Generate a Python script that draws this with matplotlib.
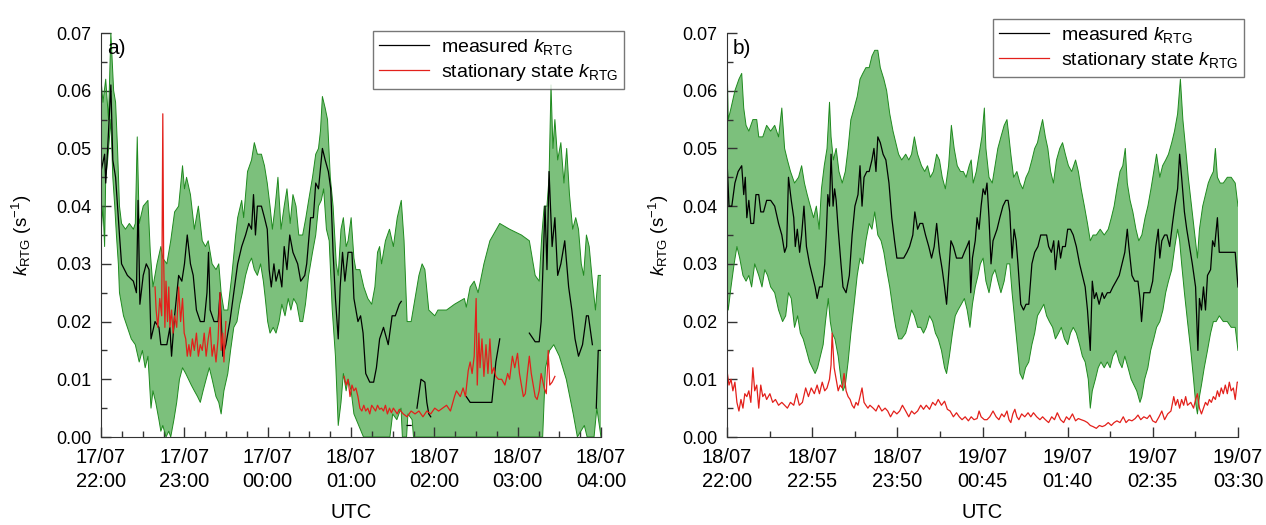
# k_RTG measured vs stationary state, two nights
import numpy as np
import matplotlib
matplotlib.use('Agg')
import matplotlib.pyplot as plt

plt.rcParams['font.family'] = ['Liberation Sans', 'DejaVu Sans']
plt.rcParams['mathtext.fontset'] = 'custom'
plt.rcParams['mathtext.rm'] = 'Liberation Sans'
plt.rcParams['mathtext.it'] = 'Liberation Sans:italic'

nan = np.nan

# ---------------- panel a) 17/07 22:00 -> 18/07 04:00 (minutes since 22:00)
ticks_a = ['17/07\n22:00', '17/07\n23:00', '17/07\n00:00', '18/07\n01:00',
           '18/07\n02:00', '18/07\n03:00', '18/07\n04:00']

t_meas_a = [0, 2.6, 3.4, 4.8, 7.1, 8.5, 10.5, 13.3, 14.8, 19,
            23.3, 25.5, 26.7, 28, 30.4, 32.6, 34.6, 36, 38.9, 41.7,
            43.1, 47.4, 49.6, 50.8, 53, 55.9, 58.2, 60.1, 62.1, 64.4,
            66.4, 68.7, 71.5, 74.3, 76.3, 77.4, 78.6, 81.4, 84.3, 85.7,
            87.7, 89.9, 92.8, 95.6, 98.4, 101.3, 104.1, 106.4, 108.4, 109.8,
            111.2, 112.6, 115.5, 117.7, 119.7, 121.1, 122.6, 124.5, 126, 128.2,
            130.2, 131.9, 133.9, 135.9, 138.2, 141.6, 143.8, 146.7, 148.1, 149.5,
            150.9, 152.9, 154.6, 156.6, 159.4, 161.4, 163.7, 165.4, 167.1, 168.8,
            170.8, 172.2, 173.9, 175.6, 177.9, 180.7, 182.1, 185, 186.9, 188.7,
            190.6, 193.5, 196.3, 198.3, 200.6, 203.4, 205.7, 206.8, 209.6, 211.9,
            214.8, 216.2, 218, 220.4, 223.3, 225, 227.5, 230.4, 233.2, 234.6,
            236, 237.4, 250, 263, 265.8, 272.9, 281.4, 284.3, 287.1, 300,
            308.4, 312.6, 315.5, 316.9, 319.7, 321.1, 322.6, 324.8, 326.8, 328.8,
            331.1, 333.9, 336.7, 339, 341.3, 343.8, 346.7, 349.5, 350.9, 353.8,
            355, 356.6, 358, 360]
k_meas_a = [0.046, 0.049, 0.044, 0.05, 0.061, 0.048, 0.045, 0.035, 0.03, 0.028,
            0.027, 0.025, 0.041, 0.023, 0.028, 0.03, 0.029, 0.017, 0.02, 0.019,
            0.016, 0.016, 0.019, 0.014, 0.021, 0.028, 0.027, 0.03, 0.035, 0.03,
            0.028, 0.022, 0.02, 0.02, 0.025, 0.032, 0.022, 0.02, 0.02, 0.025,
            0.014, 0.016, 0.02, 0.025, 0.03, 0.033, 0.035, 0.037, 0.036, 0.042,
            0.035, 0.04, 0.04, 0.038, 0.036, 0.029, 0.026, 0.03, 0.027, 0.029,
            0.026, 0.033, 0.029, 0.035, 0.032, 0.03, 0.027, 0.028, 0.03, 0.034,
            0.038, 0.038, 0.044, 0.043, 0.05, 0.048, 0.046, 0.043, 0.032, 0.024,
            0.017, 0.026, 0.032, 0.027, 0.032, 0.032, 0.024, 0.02, 0.021, 0.018,
            0.011, 0.0095, 0.0095, 0.012, 0.017, 0.019, 0.017, 0.016, 0.021, 0.021,
            0.023, 0.0235, nan, 0.002, 0.002, nan, 0.005, 0.010, 0.0095, 0.006,
            0.004, 0.0035, nan, 0.007, 0.006, 0.006, 0.006, 0.013, 0.017, nan,
            0.018, 0.0165, 0.0165, 0.02, 0.04, 0.029, 0.046, 0.033, 0.038, 0.028,
            0.03, 0.034, 0.026, 0.022, 0.017, 0.014, 0.016, 0.021, 0.021, 0.016,
            nan, 0.005, 0.015, 0.015]

t_up_a = [0, 1.4, 3.4, 5.4, 7.1, 9.1, 10.5, 11.9, 13.3, 14.8,
          17.6, 20.4, 23.3, 24.7, 26.1, 27.5, 30.4, 33.8, 35.5, 37.4,
          40.3, 43.1, 44.5, 47.4, 50.2, 53, 55.9, 58.7, 60.1, 61.6,
          64.4, 67.2, 70.1, 72.9, 75.2, 77.2, 80, 82.8, 84.8, 86.5,
          88.5, 91.3, 94.2, 97, 98.4, 101.3, 102.7, 105.5, 108.4, 110.4,
          112.6, 115.5, 117.7, 119.7, 121.7, 123.4, 125.4, 127.4, 129.6, 131.9,
          133.9, 136.2, 138.2, 140.4, 142.4, 145.2, 147.5, 149.5, 152.3, 154.6,
          156.6, 158, 159.4, 161.4, 163.1, 165.1, 167.1, 169.4, 170.8, 172.8,
          174.5, 176.5, 177.9, 180.1, 182.1, 183.5, 186.4, 189.2, 192.1, 194.9,
          197.2, 199.1, 200.6, 202, 204.8, 207.7, 210.5, 213.3, 216.2, 218.2,
          220.4, 223.3, 226.1, 228.9, 231.2, 233.2, 236, 240.3, 242.6, 248.8,
          254.5, 261.6, 263, 265.8, 268.7, 271.5, 275.7, 280, 287.1, 294.2,
          302.7, 308.4, 312.6, 315.5, 317.4, 319.1, 321.1, 322.6, 324, 325.4,
          326.8, 328.8, 331.1, 333.3, 335.3, 337.3, 339.6, 341.8, 343.8, 345.8,
          347.5, 349.5, 351.5, 353.8, 356, 358, 360]
k_up_a = [0.062, 0.058, 0.062, 0.055, 0.07, 0.06, 0.058, 0.05, 0.04, 0.037,
          0.036, 0.037, 0.036, 0.037, 0.052, 0.037, 0.04, 0.041, 0.032, 0.026,
          0.03, 0.033, 0.031, 0.03, 0.034, 0.039, 0.04, 0.047, 0.043, 0.045,
          0.042, 0.036, 0.04, 0.034, 0.033, 0.034, 0.03, 0.029, 0.03, 0.025,
          0.022, 0.022, 0.028, 0.035, 0.038, 0.041, 0.038, 0.046, 0.048, 0.051,
          0.049, 0.049, 0.047, 0.044, 0.04, 0.036, 0.04, 0.045, 0.036, 0.04,
          0.043, 0.037, 0.042, 0.04, 0.035, 0.035, 0.038, 0.041, 0.045, 0.049,
          0.05, 0.053, 0.059, 0.057, 0.055, 0.045, 0.04, 0.03, 0.028, 0.036,
          0.038, 0.033, 0.034, 0.038, 0.031, 0.029, 0.029, 0.026, 0.024, 0.023,
          0.026, 0.032, 0.033, 0.03, 0.034, 0.036, 0.033, 0.038, 0.041, 0.034,
          0.02, 0.02, 0.024, 0.028, 0.03, 0.029, 0.022, 0.021, 0.022, 0.022,
          0.023, 0.024, 0.0225, 0.026, 0.027, 0.025, 0.03, 0.034, 0.037, 0.036,
          0.035, 0.034, 0.028, 0.027, 0.035, 0.04, 0.04, 0.045, 0.061, 0.05,
          0.055, 0.048, 0.051, 0.044, 0.05, 0.042, 0.036, 0.038, 0.036, 0.03,
          0.028, 0.035, 0.033, 0.027, 0.022, 0.028, 0.028]

t_lo_a = [0, 1.4, 2.6, 3.4, 4.8, 7.1, 8.5, 9.9, 11.1, 12.5,
          13.3, 16.2, 19, 21.8, 24.7, 27.5, 29.8, 31.8, 33.8, 36,
          37.4, 39.4, 41.7, 43.1, 44.5, 46.8, 48.8, 50.2, 52.5, 54.5,
          56.5, 58.7, 61, 63, 65, 67.2, 69.5, 71.5, 73.5, 75.7,
          78, 80, 82.8, 84.8, 86.5, 88.5, 91.3, 93.3, 95.6, 97.9,
          99.9, 101.8, 104.1, 106.4, 108.4, 110.4, 112.6, 114.9, 116.9, 118.3,
          120, 121.7, 124, 126, 128.2, 130.2, 132.5, 134.8, 136.7, 138.7,
          141, 143.3, 145.2, 147.2, 149.5, 152.3, 154.6, 156.6, 158.6, 160.3,
          162.3, 164.3, 166.5, 168.8, 170.8, 172.8, 174.5, 176.5, 177.9, 180.1,
          182.1, 189, 208, 210, 213, 216, 217, 220, 221, 224,
          225, 318, 320, 323, 326, 330, 335, 340, 343, 348,
          350, 355, 357, 360]
k_lo_a = [0.035, 0.04, 0.033, 0.045, 0.048, 0.055, 0.045, 0.04, 0.035, 0.03,
          0.025, 0.021, 0.019, 0.017, 0.016, 0.013, 0.015, 0.012, 0.014, 0.005,
          0.008, 0.006, 0.003, 0.001, 0.002, 0.0, 0.001, 0.0, 0.003, 0.006,
          0.01, 0.012, 0.011, 0.01, 0.009, 0.008, 0.007, 0.006, 0.008, 0.01,
          0.012, 0.01, 0.007, 0.006, 0.004, 0.008, 0.011, 0.015, 0.019, 0.02,
          0.023, 0.025, 0.028, 0.03, 0.031, 0.029, 0.028, 0.03, 0.027, 0.024,
          0.02, 0.018, 0.019, 0.018, 0.02, 0.023, 0.021, 0.024, 0.022, 0.024,
          0.023, 0.02, 0.02, 0.023, 0.028, 0.032, 0.035, 0.04, 0.041, 0.043,
          0.036, 0.034, 0.022, 0.014, 0.002, 0.006, 0.011, 0.008, 0.01, 0.008,
          0.004, 0.0, 0.0, 0.004, 0.003, 0.005, 0.0, 0.0, 0.004, 0.003,
          0.0, 0.0, 0.012, 0.015, 0.016, 0.014, 0.01, 0.004, 0.0, 0.002,
          0.0, 0.0, 0.005, 0.0]

t_stat_a = [38.9, 39.7, 40.9, 42.3, 43.7, 44.5, 45.1, 46, 46.8, 47.9,
            48.8, 49.6, 50.8, 51.9, 53, 54.5, 55.9, 57.3, 58.7, 59.9,
            61, 62.1, 63.3, 64.4, 65.8, 67.2, 68.7, 70.1, 71.5, 72.9,
            74.3, 75.7, 77.2, 78.6, 80, 81.4, 82.8, 84.3, 85.7, 86.5,
            87.7, 88.5, 89.9, 130,
            175, 176.5, 177.9, 179.3, 180.7, 182.1, 183.5, 185, 186.4, 187.8,
            189.2, 190.6, 192.1, 193.5, 194.9, 196.3, 197.7, 199.1, 200.6, 202,
            203.4, 204.8, 206.2, 207.7, 209.1, 210.5, 211.9, 213.3, 214.8, 217.6,
            220.4, 223.3, 226.1, 228.9, 231.8, 234.6, 237.4, 240.3, 243.1, 246,
            248.8, 251.6, 254.5, 255.9, 257.3, 258.7, 260.7, 262.4, 264.4, 265.8,
            267.2, 268.7, 270.1, 270.9, 272.1, 272.9, 274.3, 275.7, 277.2, 278.6,
            280, 281.4, 282.8, 284.3, 286.2, 288.5, 290.8, 292.8, 294.2, 296.2,
            297.9, 299.9, 301.3, 302.7, 304.1, 305.5, 307, 308.4, 309.8, 311.2,
            312.6, 314, 315.5, 316.9, 319.1, 320.6, 322, 323.1, 324.8, 326.8]
k_stat_a = [0.026, 0.022, 0.019, 0.024, 0.021, 0.056, 0.031, 0.019, 0.027, 0.02,
            0.026, 0.019, 0.022, 0.018, 0.021, 0.019, 0.026, 0.02, 0.024, 0.018,
            0.017, 0.014, 0.016, 0.014, 0.017, 0.015, 0.018, 0.014, 0.016, 0.015,
            0.018, 0.014, 0.017, 0.019, 0.014, 0.016, 0.013, 0.017, 0.025, 0.015,
            0.018, 0.013, 0.02, nan,
            0.0105, 0.009, 0.01, 0.007, 0.009, 0.008, 0.0085, 0.007, 0.005, 0.0045,
            0.0055, 0.0045, 0.005, 0.004, 0.0055, 0.005, 0.0045, 0.0055, 0.0048, 0.005,
            0.0045, 0.0055, 0.004, 0.005, 0.0042, 0.005, 0.0045, 0.004, 0.0048, 0.004,
            0.0035, 0.0045, 0.004, 0.0045, 0.0035, 0.0045, 0.004, 0.005, 0.0045, 0.005,
            0.0055, 0.0045, 0.007, 0.008, 0.0075, 0.007, 0.0085, 0.007, 0.0115, 0.013,
            0.011, 0.014, 0.024, 0.009, 0.018, 0.012, 0.017, 0.0105, 0.016, 0.011,
            0.017, 0.011, 0.012, 0.0105, 0.01, 0.01, 0.009, 0.011, 0.01, 0.014,
            0.012, 0.0145, 0.011, 0.009, 0.007, 0.0075, 0.011, 0.014, 0.011, 0.009,
            0.007, 0.0065, 0.008, 0.011, 0.0085, 0.0075, 0.015, 0.009, 0.0095, 0.0105]

# ---------------- panel b) 18/07 22:00 -> 19/07 03:30 (minutes since 22:00)
ticks_b = ['18/07\n22:00', '18/07\n22:55', '18/07\n23:50', '19/07\n00:45',
           '19/07\n01:40', '19/07\n02:35', '19/07\n03:30']

t_meas_b = [0, 1.3, 3.1, 5.1, 7.2, 9.5, 10.8, 11.8, 12.8, 14.1,
            15.4, 17.2, 18.7, 20.5, 21.8, 23.6, 25.6, 28.2, 30.8, 33.3,
            35.4, 37.2, 38.5, 39.7, 41.5, 43.1, 44.1, 45.4, 46.9, 48.2,
            49.7, 51.3, 53.3, 55.1, 56.9, 58.2, 59.7, 61.5, 63.1, 64.1,
            65.1, 66.2, 67.2, 68.5, 69.5, 70.5, 71.8, 73.6, 74.9, 76.9,
            79, 80.8, 82.6, 84.6, 85.9, 87.2, 88.5, 90.3, 91.8, 93.6,
            94.9, 96.2, 97.4, 99, 100.8, 102.6, 104.6, 106.4, 108.2, 109.7,
            111.5, 114.1, 116.2, 117.9, 120, 121.3, 123.1, 124.6, 126.4, 128.2,
            130.3, 132.1, 133.8, 135.4, 137.2, 139, 140.5, 141.8, 143.1, 144.6,
            146.2, 148.2, 150, 151.8, 153.3, 154.9, 156.4, 157.4, 158.5, 160.3,
            161.5, 162.8, 164.1, 165.4, 166.7, 167.9, 169.2, 170.5, 171.8, 173.1,
            174.4, 176.2, 178.2, 180, 181.5, 182.6, 184.1, 185.4, 186.7, 187.9,
            189.7, 191.5, 193.1, 194.9, 196.9, 198.7, 200.8, 202.6, 204.4, 206.4,
            207.7, 209.5, 211, 212.1, 212.8, 214.1, 215.4, 216.7, 218.5, 220,
            221.8, 223.6, 225.6, 227.7, 229.5, 231.3, 232.8, 234.6, 235.9, 237.2,
            238.5, 240.3, 242.3, 243.6, 245.6, 247.4, 249.2, 251.3, 253.3, 255.1,
            256.9, 258.5, 259.5, 261.5, 263.3, 265.4, 266.7, 267.7, 269.2, 271,
            273.1, 274.9, 276.9, 278.5, 279.5, 280.8, 282.6, 284.1, 285.9, 287.7,
            289.2, 291, 292.3, 293.6, 295.4, 296.9, 298.7, 300.5, 302.6, 304.1,
            305.1, 306.4, 307.7, 309, 310.3, 312.3, 313.6, 314.9, 316.7, 317.9,
            320.5, 324.4, 328.2, 330]
k_meas_b = [0.048, 0.04, 0.04, 0.044, 0.046, 0.047, 0.042, 0.045, 0.038, 0.041,
            0.037, 0.037, 0.042, 0.042, 0.039, 0.039, 0.041, 0.041, 0.04, 0.037,
            0.035, 0.032, 0.033, 0.045, 0.041, 0.038, 0.033, 0.036, 0.032, 0.035,
            0.04, 0.033, 0.03, 0.028, 0.026, 0.024, 0.026, 0.026, 0.03, 0.035,
            0.042, 0.04, 0.049, 0.04, 0.043, 0.041, 0.036, 0.03, 0.026, 0.025,
            0.028, 0.035, 0.04, 0.042, 0.047, 0.04, 0.045, 0.046, 0.046, 0.048,
            0.05, 0.046, 0.052, 0.051, 0.049, 0.048, 0.044, 0.038, 0.034, 0.031,
            0.031, 0.031, 0.032, 0.033, 0.035, 0.039, 0.036, 0.037, 0.037, 0.035,
            0.033, 0.031, 0.033, 0.037, 0.032, 0.029, 0.026, 0.023, 0.028, 0.034,
            0.033, 0.031, 0.031, 0.031, 0.032, 0.033, 0.034, 0.025, 0.031, 0.034,
            0.038, 0.036, 0.04, 0.043, 0.042, 0.044, 0.038, 0.03, 0.034, 0.035,
            0.036, 0.038, 0.04, 0.041, 0.041, 0.039, 0.031, 0.036, 0.034, 0.03,
            0.023, 0.022, 0.023, 0.023, 0.03, 0.032, 0.033, 0.035, 0.035, 0.035,
            0.033, 0.032, 0.034, 0.029, 0.031, 0.034, 0.031, 0.033, 0.033, 0.036,
            0.036, 0.035, 0.033, 0.03, 0.028, 0.026, 0.022, 0.015, 0.027, 0.024,
            0.025, 0.023, 0.025, 0.024, 0.025, 0.025, 0.026, 0.027, 0.028, 0.03,
            0.032, 0.036, 0.033, 0.028, 0.027, 0.027, 0.024, 0.02, 0.025, 0.025,
            0.025, 0.027, 0.033, 0.036, 0.031, 0.034, 0.035, 0.035, 0.033, 0.037,
            0.04, 0.043, 0.049, 0.045, 0.039, 0.036, 0.033, 0.03, 0.026, 0.015,
            0.024, 0.022, 0.026, 0.022, 0.028, 0.029, 0.034, 0.033, 0.038, 0.032,
            0.032, 0.032, 0.032, 0.026]

t_up_b = [0, 0.8, 2.6, 5.1, 7.7, 9.5, 10.8, 12.3, 14.1, 16.7,
          19.2, 20.5, 23.1, 25.6, 28.2, 30.8, 33.3, 35.4, 37.2, 39,
          41, 43.6, 46.2, 48.2, 50, 51.8, 53.8, 55.9, 57.7, 59.5,
          61, 62.8, 64.6, 66.2, 67.2, 68.7, 70.5, 72.3, 74.4, 76.4,
          78.2, 80, 82.1, 84.1, 85.9, 87.7, 89.7, 91.8, 93.6, 95.4,
          97.4, 99, 101.3, 103.1, 105.1, 107.2, 109, 110.8, 112.8, 115.4,
          117.4, 119.2, 121, 123.1, 125.6, 127.7, 129.5, 131.3, 133.3, 135.4,
          137.2, 139, 141, 143.1, 144.9, 146.7, 148.7, 150.8, 152.6, 154.4,
          156.4, 157.7, 159, 161, 162.8, 164.6, 166.2, 167.2, 169.2, 171.3,
          173.1, 174.9, 176.9, 179, 180.8, 182.1, 183.3, 185.1, 187.2, 189.2,
          191, 193.1, 194.9, 196.9, 198.7, 200.5, 202.1, 203.8, 205.6, 207.2,
          209, 210.8, 212.8, 214.9, 216.7, 218.5, 220.5, 222.6, 225.1, 226.9,
          228.7, 230.8, 232.8, 234.6, 236.4, 238.5, 241, 243.6, 246.2, 248.2,
          250, 251.8, 253.8, 255.6, 257.2, 258.5, 260.3, 262.1, 264.1, 265.9,
          267.9, 270, 271.8, 273.8, 275.6, 277.4, 279.5, 281.3, 283.3, 285.1,
          287.2, 289, 291, 292.8, 294.4, 296.2, 297.9, 300, 302.1, 303.8,
          305.1, 307.2, 309, 310.8, 312.3, 314.1, 315.4, 316.7, 318.5, 320.5,
          323.1, 325.6, 328.2, 330]
k_up_b = [0.066, 0.055, 0.057, 0.06, 0.062, 0.063, 0.057, 0.054, 0.053, 0.055,
          0.055, 0.052, 0.052, 0.054, 0.053, 0.054, 0.052, 0.057, 0.05, 0.048,
          0.046, 0.044, 0.045, 0.047, 0.044, 0.042, 0.04, 0.038, 0.04, 0.036,
          0.043, 0.047, 0.05, 0.058, 0.052, 0.048, 0.05, 0.046, 0.044, 0.046,
          0.05, 0.055, 0.057, 0.059, 0.062, 0.063, 0.064, 0.064, 0.066, 0.067,
          0.067, 0.064, 0.062, 0.06, 0.056, 0.053, 0.051, 0.049, 0.048, 0.049,
          0.048, 0.049, 0.052, 0.049, 0.047, 0.046, 0.047, 0.045, 0.046, 0.049,
          0.048, 0.045, 0.043, 0.047, 0.054, 0.05, 0.047, 0.046, 0.046, 0.045,
          0.047, 0.048, 0.044, 0.046, 0.049, 0.052, 0.057, 0.05, 0.045, 0.044,
          0.047, 0.05, 0.052, 0.054, 0.055, 0.052, 0.049, 0.045, 0.046, 0.044,
          0.043, 0.045, 0.046, 0.048, 0.05, 0.051, 0.053, 0.055, 0.052, 0.05,
          0.046, 0.044, 0.048, 0.05, 0.051, 0.049, 0.047, 0.046, 0.048, 0.046,
          0.043, 0.04, 0.037, 0.034, 0.035, 0.035, 0.036, 0.035, 0.036, 0.038,
          0.04, 0.043, 0.046, 0.047, 0.05, 0.044, 0.041, 0.039, 0.036, 0.034,
          0.035, 0.038, 0.04, 0.043, 0.046, 0.049, 0.045, 0.047, 0.048, 0.049,
          0.051, 0.053, 0.056, 0.062, 0.055, 0.05, 0.045, 0.04, 0.035, 0.031,
          0.036, 0.04, 0.042, 0.044, 0.045, 0.046, 0.05, 0.045, 0.044, 0.044,
          0.045, 0.045, 0.044, 0.04]

t_lo_b = [0, 0.8, 2.6, 4.6, 6.4, 8.2, 10.3, 12.3, 14.1, 15.9,
          17.9, 20.5, 22.6, 24.4, 26.2, 28.2, 30.8, 33.3, 35.9, 37.9,
          39.7, 41.5, 43.6, 45.6, 47.4, 49.2, 51.3, 53.3, 55.1, 56.9,
          58.5, 60.3, 62.1, 63.6, 65.4, 66.7, 67.9, 69.7, 71.8, 73.6,
          74.9, 76.4, 78.2, 80, 82.1, 84.1, 85.9, 87.7, 89.7, 91.8,
          93.6, 95.4, 97.4, 99.5, 101.3, 103.1, 105.1, 107.2, 109, 110.8,
          112.8, 115.4, 117.4, 119.2, 121, 123.1, 125.1, 126.9, 128.7, 130.8,
          132.8, 134.6, 136.4, 138.5, 140.5, 141.8, 143.6, 145.6, 147.4, 149.2,
          151.3, 153.3, 155.1, 156.9, 158.5, 160.3, 162.1, 163.6, 165.4, 167.2,
          169.2, 171.3, 173.1, 174.9, 176.9, 179, 180.8, 182.6, 184.1, 185.9,
          187.7, 189.2, 191, 192.8, 194.9, 196.9, 198.7, 200.5, 202.6, 204.6,
          206.4, 208.2, 210.3, 212.1, 214.1, 215.9, 217.9, 220, 221.8, 223.6,
          225.6, 227.7, 229.5, 231.3, 233.3, 234.6, 235.9, 237.9, 239.7, 241.5,
          243.6, 245.6, 247.4, 249.2, 251.3, 253.3, 255.1, 256.9, 259, 261,
          262.8, 264.6, 266.7, 267.9, 269.7, 271.8, 273.6, 275.6, 277.4, 279.5,
          281.5, 283.3, 285.1, 287.2, 289.2, 291, 292.3, 293.6, 295.4, 297.4,
          299.5, 301.3, 302.6, 303.8, 305.1, 306.4, 308.2, 310.3, 312.3, 314.1,
          315.9, 317.9, 320.5, 323.1, 325.6, 328.2, 330]
k_lo_b = [0.024, 0.022, 0.026, 0.03, 0.033, 0.031, 0.028, 0.027, 0.028, 0.026,
          0.03, 0.028, 0.026, 0.029, 0.028, 0.026, 0.025, 0.022, 0.02, 0.021,
          0.025, 0.024, 0.019, 0.021, 0.018, 0.017, 0.015, 0.013, 0.012, 0.011,
          0.012, 0.014, 0.016, 0.02, 0.024, 0.02, 0.018, 0.017, 0.014, 0.01,
          0.008, 0.009, 0.013, 0.018, 0.023, 0.028, 0.031, 0.03, 0.034, 0.037,
          0.036, 0.039, 0.035, 0.034, 0.032, 0.029, 0.026, 0.022, 0.019, 0.017,
          0.017, 0.018, 0.02, 0.022, 0.021, 0.019, 0.019, 0.018, 0.019, 0.021,
          0.02, 0.018, 0.017, 0.015, 0.012, 0.011, 0.014, 0.018, 0.021, 0.022,
          0.023, 0.024, 0.022, 0.019, 0.023, 0.026, 0.028, 0.03, 0.031, 0.027,
          0.025, 0.028, 0.029, 0.027, 0.025, 0.027, 0.03, 0.03, 0.025, 0.02,
          0.015, 0.011, 0.01, 0.012, 0.013, 0.016, 0.018, 0.021, 0.022, 0.023,
          0.021, 0.02, 0.019, 0.017, 0.018, 0.019, 0.017, 0.016, 0.018, 0.019,
          0.018, 0.016, 0.014, 0.013, 0.01, 0.005, 0.008, 0.01, 0.012, 0.013,
          0.012, 0.013, 0.012, 0.014, 0.015, 0.013, 0.012, 0.014, 0.012, 0.01,
          0.009, 0.008, 0.006, 0.007, 0.01, 0.012, 0.015, 0.017, 0.019, 0.02,
          0.022, 0.025, 0.027, 0.029, 0.033, 0.036, 0.034, 0.03, 0.025, 0.02,
          0.015, 0.01, 0.006, 0.004, 0.007, 0.009, 0.012, 0.015, 0.018, 0.02,
          0.02, 0.021, 0.02, 0.02, 0.019, 0.019, 0.015]

t_stat_b = [0, 1.3, 2.6, 3.8, 5.1, 6.4, 7.7, 9, 10.3, 11.5,
            12.8, 14.1, 15.4, 16.7, 17.9, 19.2, 20.5, 21.8, 23.1, 24.4,
            25.6, 27.7, 29.5, 31.3, 33.3, 35.4, 37.2, 39, 41, 43.1,
            44.9, 46.7, 48.7, 50.8, 52.6, 54.4, 56.4, 58.2, 59.7, 61.5,
            63.1, 64.6, 66.2, 67.2, 67.9, 69.2, 70.5, 71.8, 73.1, 74.4,
            75.6, 76.9, 78.2, 79.5, 80.8, 82.1, 83.3, 84.6, 85.9, 87.2,
            88.5, 89.7, 91, 92.3, 94.4, 96.2, 97.9, 100, 102.1, 103.8,
            105.6, 107.7, 109.7, 111.5, 113.3, 115.4, 117.4, 119.2, 121, 123.1,
            125.1, 126.9, 128.7, 130.8, 132.8, 134.6, 136.4, 138.5, 140.5, 142.3,
            144.1, 146.2, 148.2, 150, 151.8, 153.8, 155.9, 157.7, 159.5, 161.5,
            162.8, 164.1, 166.2, 167.9, 169.7, 171.8, 173.8, 175.6, 177.4, 179,
            180.8, 182.1, 183.3, 184.6, 185.9, 187.2, 188.5, 190.3, 192.3, 194.4,
            196.2, 197.9, 200, 202.1, 203.8, 205.6, 207.7, 209.7, 211.5, 213.3,
            215.4, 217.4, 219.2, 221, 223.1, 225.1, 226.9, 228.7, 230.8, 232.8,
            234.6, 236.4, 238.5, 240.5, 242.3, 244.1, 246.2, 248.2, 250, 251.8,
            253.8, 255.9, 257.7, 259.5, 261.5, 263.6, 265.4, 267.2, 269.2, 271.3,
            273.1, 274.9, 276.9, 279, 280.8, 282.6, 284.6, 286.7, 288.5, 289.7,
            291, 292.3, 293.6, 294.9, 296.2, 297.4, 299.5, 301.3, 302.6, 303.8,
            305.1, 306.4, 307.7, 309, 310.3, 311.5, 312.8, 314.1, 315.4, 316.7,
            317.9, 319.2, 320.5, 321.8, 323.1, 324.4, 325.6, 327, 328.2, 329.5,
            330]
k_stat_b = [0.0115, 0.009, 0.01, 0.008, 0.0095, 0.006, 0.0045, 0.0065, 0.005, 0.0075,
            0.007, 0.008, 0.006, 0.012, 0.008, 0.009, 0.005, 0.009, 0.007, 0.0075,
            0.0065, 0.0075, 0.006, 0.0065, 0.0055, 0.006, 0.0055, 0.005, 0.006, 0.0055,
            0.0075, 0.0055, 0.006, 0.0085, 0.007, 0.0085, 0.0075, 0.009, 0.0075, 0.0095,
            0.008, 0.0085, 0.01, 0.0125, 0.018, 0.012, 0.01, 0.008, 0.009, 0.0085,
            0.011, 0.008, 0.007, 0.0065, 0.0055, 0.005, 0.006, 0.0055, 0.007, 0.0085,
            0.006, 0.0055, 0.005, 0.0055, 0.005, 0.0045, 0.0055, 0.0045, 0.005, 0.0045,
            0.0035, 0.0045, 0.004, 0.0045, 0.0055, 0.0045, 0.0035, 0.0045, 0.004, 0.0045,
            0.0055, 0.0048, 0.0055, 0.0048, 0.006, 0.0055, 0.0065, 0.0055, 0.0062, 0.0048,
            0.0045, 0.0035, 0.0042, 0.0035, 0.003, 0.0035, 0.0028, 0.0035, 0.003, 0.0032,
            0.0045, 0.0035, 0.003, 0.003, 0.0035, 0.0045, 0.0035, 0.003, 0.004, 0.0035,
            0.0045, 0.003, 0.0025, 0.004, 0.0048, 0.0035, 0.003, 0.004, 0.0035, 0.0042,
            0.0035, 0.0042, 0.0035, 0.003, 0.0035, 0.003, 0.0025, 0.0035, 0.003, 0.0042,
            0.003, 0.0025, 0.0035, 0.003, 0.004, 0.0028, 0.0032, 0.003, 0.0028, 0.0025,
            0.002, 0.0018, 0.0015, 0.002, 0.0018, 0.002, 0.0025, 0.002, 0.0025, 0.0028,
            0.0025, 0.0035, 0.0025, 0.003, 0.0028, 0.0032, 0.0038, 0.003, 0.0035, 0.0032,
            0.0038, 0.0028, 0.0025, 0.0035, 0.0045, 0.003, 0.004, 0.0045, 0.007, 0.0055,
            0.0065, 0.005, 0.0065, 0.0055, 0.007, 0.0055, 0.006, 0.005, 0.0065, 0.0075,
            0.005, 0.004, 0.005, 0.006, 0.0055, 0.0065, 0.006, 0.007, 0.0065, 0.008,
            0.007, 0.0085, 0.0075, 0.009, 0.0075, 0.0095, 0.008, 0.0085, 0.0065, 0.0095,
            0.0095]

fill_col = '#7cc07c'
edge_col = '#1f8a1f'


def draw_panel(ax, t_up, k_up, t_lo, k_lo, t_meas, k_meas, t_stat, k_stat,
               xmax, major, minor, labels, letter, ylab_x):
    # green band: polygon from upper edge then lower edge backwards
    xs = np.concatenate([t_up, t_lo[::-1]])
    ys = np.concatenate([k_up, k_lo[::-1]])
    ax.fill(xs, ys, color=fill_col, lw=0)
    ax.plot(t_up, k_up, color=edge_col, lw=0.7)
    ax.plot(t_lo, k_lo, color=edge_col, lw=0.7)
    ax.plot(t_meas, k_meas, color='black', lw=0.9, label=r'measured $k_{\mathrm{RTG}}$')
    ax.plot(t_stat, k_stat, color='#e3201b', lw=0.9, label=r'stationary state $k_{\mathrm{RTG}}$')

    ax.set_xlim(0, xmax)
    ax.set_ylim(0, 0.07)
    ax.set_xticks(major)
    ax.set_xticks(minor, minor=True)
    ax.set_xticklabels(labels, fontsize=14.5, linespacing=1.3)
    ax.set_yticks(np.arange(0, 0.071, 0.01))
    ax.set_yticks(np.arange(0.005, 0.07, 0.01), minor=True)
    ax.set_yticklabels(['%.2f' % v for v in np.arange(0, 0.071, 0.01)], fontsize=13)
    ax.tick_params(which='both', direction='in', width=1, color='#333333')
    ax.tick_params(which='major', length=7)
    ax.tick_params(which='minor', length=4)
    ax.tick_params(axis='x', pad=8)
    ax.tick_params(axis='y', pad=7)
    for s in ['top', 'right']:
        ax.spines[s].set_visible(False)
    for s in ['left', 'bottom']:
        ax.spines[s].set_color('#333333')
    ax.set_xlabel('UTC', fontsize=14.5, labelpad=9)
    ax.set_ylabel(r'$k_{\mathrm{RTG}}$ (s$^{-1}$)', fontsize=13.5)
    ax.yaxis.set_label_coords(ylab_x, 0.5)
    ax.text(0.012, 0.985, letter, transform=ax.transAxes, fontsize=15, va='top', ha='left')


fig = plt.figure(figsize=(12.66, 5.25), dpi=100)
axa = fig.add_axes([101 / 1266, 88 / 525, 500 / 1266, 404 / 525])
axb = fig.add_axes([727 / 1266, 88 / 525, 511 / 1266, 404 / 525])

draw_panel(axa, np.array(t_up_a), np.array(k_up_a), np.array(t_lo_a), np.array(k_lo_a),
           t_meas_a, k_meas_a, t_stat_a, k_stat_a,
           360, np.arange(0, 361, 60), np.arange(0, 361, 15), ticks_a, 'a)', -0.135)
draw_panel(axb, np.array(t_up_b), np.array(k_up_b), np.array(t_lo_b), np.array(k_lo_b),
           t_meas_b, k_meas_b, t_stat_b, k_stat_b,
           330, np.arange(0, 331, 55), np.arange(0, 331, 27.5), ticks_b, 'b)', -0.11)

for ax, anchor in [(axa, (373 / 1266, 1 - 31 / 525)), (axb, (993 / 1266, 1 - 19 / 525))]:
    leg = ax.legend(loc='upper left', bbox_to_anchor=anchor, bbox_transform=fig.transFigure,
                    fontsize=14, frameon=True, fancybox=False, handlelength=2.6,
                    borderpad=0.3, labelspacing=0.25, handletextpad=0.6, borderaxespad=0)
    leg.get_frame().set_edgecolor('#555555')
    leg.get_frame().set_linewidth(1.0)

fig.savefig('out.png', dpi=100)
